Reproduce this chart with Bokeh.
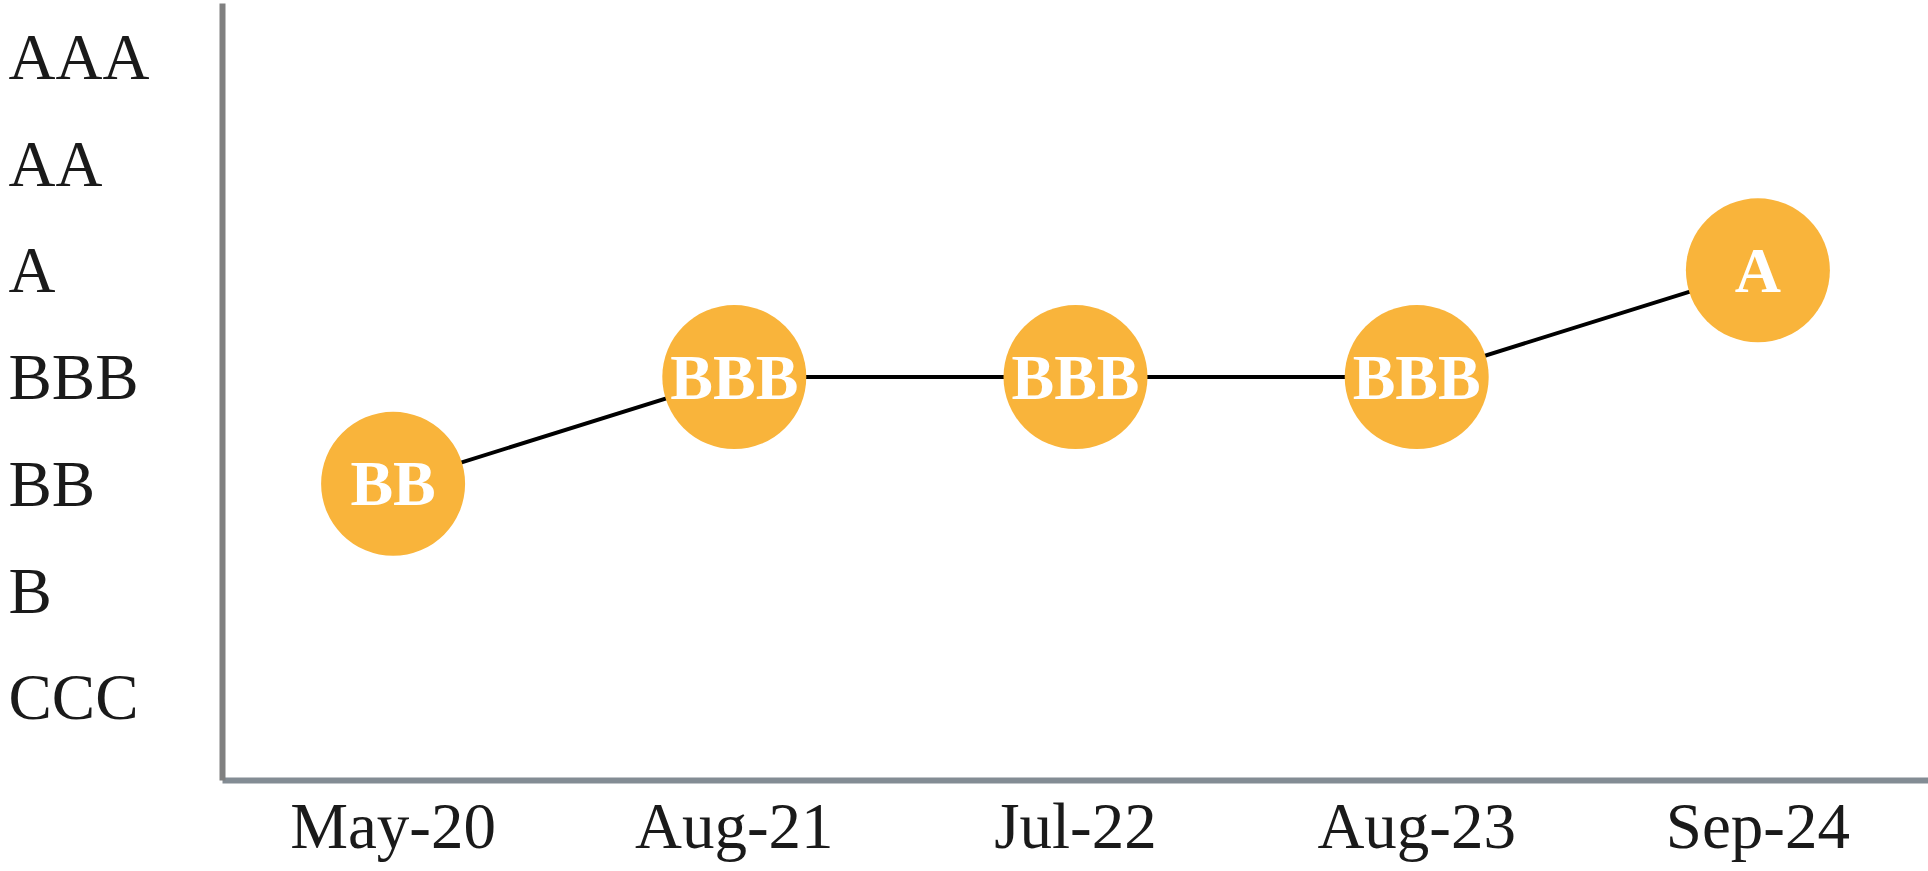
from bokeh.plotting import figure
from bokeh.layouts import row
from bokeh.models import ColumnDataSource, FactorRange, Range1d, FixedTicker
from bokeh.core.properties import value
from bokeh.embed import file_html
from bokeh.resources import INLINE

# Data
dates = ["May-20", "Aug-21", "Jul-22", "Aug-23", "Sep-24"]
ratings = ["BB", "BBB", "BBB", "BBB", "A"]
scale = ["CCC", "B", "BB", "BBB", "A", "AA", "AAA"]

rank_of = {r: i + 1 for i, r in enumerate(scale)}
rank = [rank_of[r] for r in ratings]

src = ColumnDataSource(dict(date=dates, rank=rank, rating=ratings))
ysrc = ColumnDataSource(dict(rank=[rank_of[s] for s in scale], label=scale))

FONT = "Liberation Serif"
ORANGE = "#F9B43B"
TEXT = "#1a1a1a"
LABEL_SIZE = "65px"

y_range = Range1d(0.22, 7.50)
H = 871
TOP, BOTTOM = 3, 91

# left strip holding the left-aligned rating scale labels (shares the y range)
pl = figure(
    width=219, height=H, x_range=Range1d(0, 1), y_range=y_range,
    output_backend="svg", toolbar_location=None,
    min_border_left=0, min_border_right=0, min_border_top=TOP, min_border_bottom=BOTTOM,
)
pl.axis.visible = False
pl.grid.visible = False
pl.outline_line_color = None
pl.text(x=0, y="rank", text="label", source=ysrc, x_offset=8,
        text_font=value(FONT), text_font_size=LABEL_SIZE, text_color=TEXT,
        text_align="left", text_baseline="middle")

# main chart
p = figure(
    width=1928 - 219, height=H,
    x_range=FactorRange(*dates, range_padding=0),
    y_range=y_range,
    output_backend="svg", toolbar_location=None,
    min_border_left=3, min_border_right=0, min_border_top=TOP, min_border_bottom=BOTTOM,
)
p.outline_line_color = None
p.grid.visible = False
p.background_fill_color = "white"
p.border_fill_color = "white"

xa = p.xaxis[0]
xa.axis_line_color = "#838c94"
xa.axis_line_width = 6
xa.major_tick_line_color = None
xa.minor_tick_line_color = None
xa.major_tick_out = 0
xa.major_tick_in = 0
xa.major_label_standoff = 9
xa.major_label_text_font = FONT
xa.major_label_text_font_size = LABEL_SIZE
xa.major_label_text_color = TEXT

ya = p.yaxis[0]
ya.ticker = FixedTicker(ticks=list(range(1, len(scale) + 1)))
ya.axis_line_color = "#808080"
ya.axis_line_width = 6
ya.major_tick_line_color = None
ya.minor_tick_line_color = None
ya.major_tick_out = 0
ya.major_tick_in = 0
ya.major_label_text_color = None
ya.major_label_text_font_size = "1px"
ya.major_label_standoff = 0

p.line(x="date", y="rank", source=src, line_color="black", line_width=4)
p.scatter(x="date", y="rank", source=src, size=144, fill_color=ORANGE, line_color=None)
p.text(x="date", y="rank", text="rating", source=src,
       text_font=value(FONT), text_font_size="64px", text_font_style="bold",
       text_color="white", text_align="center", text_baseline="middle")

layout = row(pl, p, spacing=0)
open("out.html", "w").write(file_html(layout, INLINE))
